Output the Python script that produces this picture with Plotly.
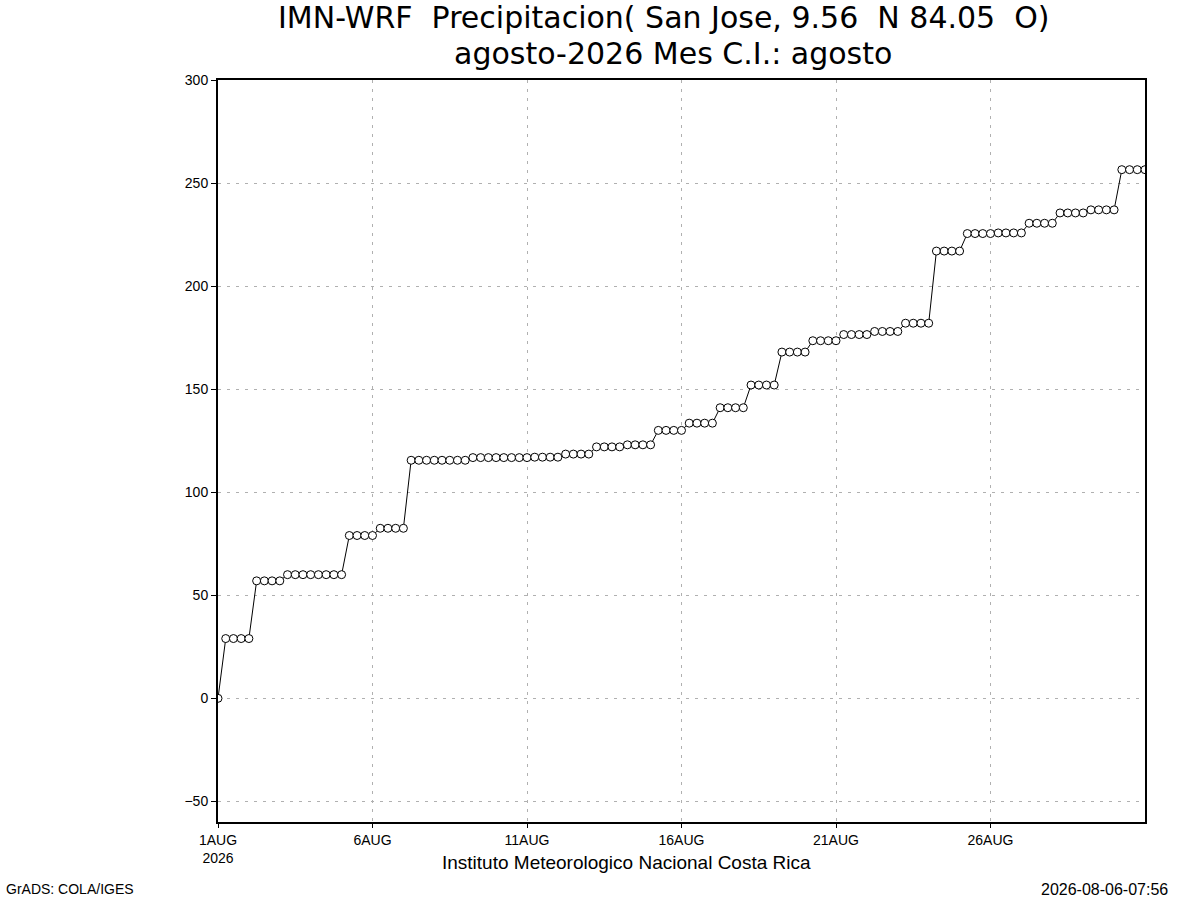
import plotly.graph_objects as go
import pandas as pd

# 6-hourly accumulated precipitation (mm), San Jose, August 2026
precip = (
    [0]
    + [29] * 4
    + [57] * 4
    + [60] * 4
    + [60] * 4
    + [79] * 4
    + [82.5] * 4
    + [115.5] * 4
    + [115.5] * 4
    + [116.8] * 4
    + [116.8] * 4
    + [117] * 4
    + [118.5] * 4
    + [122] * 4
    + [123] * 4
    + [130] * 4
    + [133.5] * 4
    + [141] * 4
    + [152] * 4
    + [168] * 4
    + [173.5] * 4
    + [176.5] * 4
    + [178] * 4
    + [182] * 4
    + [217] * 4
    + [225.5] * 4
    + [225.8] * 4
    + [230.5] * 4
    + [235.5] * 4
    + [237] * 4
    + [256.5] * 4
)
times = pd.date_range("2026-08-01 00:00", periods=len(precip), freq="6h")

x_tick_dates = ["2026-08-01", "2026-08-06", "2026-08-11", "2026-08-16", "2026-08-21", "2026-08-26"]
x_tick_labels = ["1AUG<br>2026", "6AUG", "11AUG", "16AUG", "21AUG", "26AUG"]
y_ticks = [-50, 0, 50, 100, 150, 200, 250, 300]

title_line1 = "IMN-WRF  Precipitacion( San Jose, 9.56  N 84.05  O)"
title_line2 = "agosto-2026 Mes C.I.: agosto"
footer = "Instituto Meteorologico Nacional Costa Rica"
left_note = "GrADS: COLA/IGES"
right_note = "2026-08-06-07:56"

FONT = "Liberation Sans"
TITLE_FONT = "DejaVu Sans"

fig = go.Figure()
fig.add_trace(go.Scatter(
    x=times, y=precip, mode="lines+markers",
    line=dict(color="black", width=1),
    marker=dict(symbol="circle", size=8, color="white",
                line=dict(color="black", width=1)),
    showlegend=False,
))

grid = dict(showgrid=True, gridcolor="#b0b0b0", gridwidth=1, griddash="3px,6px")
fig.update_xaxes(
    range=["2026-08-01 00:00", "2026-08-31 00:00"],
    tickvals=x_tick_dates, ticktext=x_tick_labels,
    ticks="outside", ticklen=4, tickcolor="black", tickwidth=1,
    showline=True, linecolor="black", linewidth=2, mirror=True,
    zeroline=False,
    tickfont=dict(family=FONT, size=14, color="black"),
    **grid,
)
fig.update_yaxes(
    range=[-60, 300], tickvals=y_ticks,
    ticks="outside", ticklen=5, tickcolor="black", tickwidth=1,
    showline=True, linecolor="black", linewidth=2, mirror=True,
    zeroline=False,
    tickfont=dict(family=FONT, size=14, color="black"),
    **grid,
)

def px_x(p):
    return (p - 218) / 927.0

def px_y(p):
    return (822 - p) / 742.0

ann = []
ann.append(dict(text=title_line1, x=px_x(664), y=px_y(18), xref="paper", yref="paper",
                xanchor="center", yanchor="middle", showarrow=False,
                font=dict(family=TITLE_FONT, size=30, color="black")))
ann.append(dict(text=title_line2, x=px_x(673), y=px_y(54), xref="paper", yref="paper",
                xanchor="center", yanchor="middle", showarrow=False,
                font=dict(family=TITLE_FONT, size=30, color="black")))
ann.append(dict(text=footer, x=px_x(626), y=px_y(863), xref="paper", yref="paper",
                xanchor="center", yanchor="middle", showarrow=False,
                font=dict(family=FONT, size=19, color="black")))
ann.append(dict(text=left_note, x=px_x(4), y=px_y(889), xref="paper", yref="paper",
                xanchor="left", yanchor="middle", showarrow=False,
                font=dict(family=FONT, size=14, color="black")))
ann.append(dict(text=right_note, x=px_x(1170), y=px_y(889), xref="paper", yref="paper",
                xanchor="right", yanchor="middle", showarrow=False,
                font=dict(family=FONT, size=16, color="black")))

fig.update_layout(
    width=1200, height=900, autosize=False,
    margin=dict(l=218, r=55, t=80, b=78),
    paper_bgcolor="white", plot_bgcolor="white",
    annotations=ann,
)

fig.write_html("out.html", config={"displayModeBar": False},
               post_script="document.body.style.margin='0px';")
